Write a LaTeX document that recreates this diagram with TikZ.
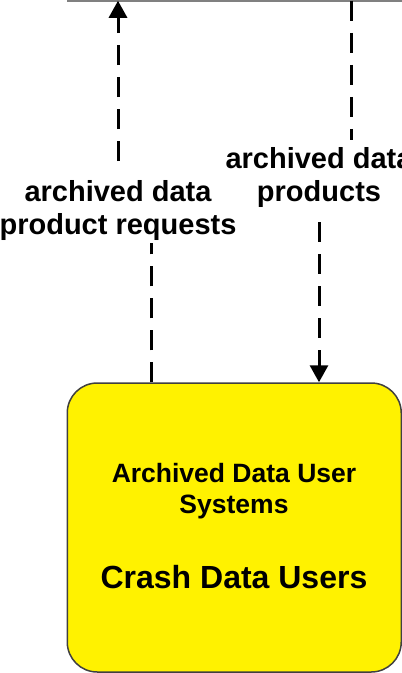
\documentclass[tikz,border=0pt]{standalone}
\usepackage{fontspec}
\setmainfont{Liberation Sans}
\usetikzlibrary{arrows.meta}

\begin{document}
\begin{tikzpicture}[
    x=1pt, y=-1pt,
    flow/.style = {line width=3pt, dash pattern=on 20pt off 12pt},
    head/.style = {-{Triangle[length=17pt,width=18pt]}},
    flowlabel/.style = {font=\bfseries\fontsize{29}{33}\selectfont, align=center, inner sep=0pt},
    userbox/.style = {draw=black!75, line width=1.5pt, fill=yellow, rounded corners=30pt,
        minimum width=334pt, minimum height=289pt, inner sep=0pt}
     ]
  \useasboundingbox (0,0) rectangle (402,673);
  % bottom edge of the box above
  \draw[gray, line width=1.5pt] (67,0.75) coordinate (above) -- (402,0.75);
  \coordinate (reqin) at (118,0.75);
  \coordinate (prodout) at (351,0.75);
  \node[userbox] (users) at (234.25,527.5) {};
  \node[font=\bfseries\fontsize{26.5}{31}\selectfont, align=center, anchor=base] (kind) at (234,513)
    {Archived Data User\\Systems};
  \node[font=\bfseries\fontsize{32}{38}\selectfont, anchor=base] (name) at (234,588) {Crash Data Users};
  \node[flowlabel] (req) at (118,210) {archived data\\product requests};
  \node[flowlabel] (prod) at (319,177) {archived data\\products};
  \coordinate (reqlow) at (151,243);
  \coordinate (reqhigh) at (118,161);
  \coordinate (prodhigh) at (351,140);
  \coordinate (prodlow) at (319,222);
  % flows
  \draw[flow] (users.north -| reqlow) -- (reqlow);
  \draw[flow, head] (reqhigh) -- (reqin);
  \draw[flow] (prodout) -- (prodhigh);
  \draw[flow, head] (prodlow) -- (users.north -| prodlow);
\end{tikzpicture}
\end{document}
